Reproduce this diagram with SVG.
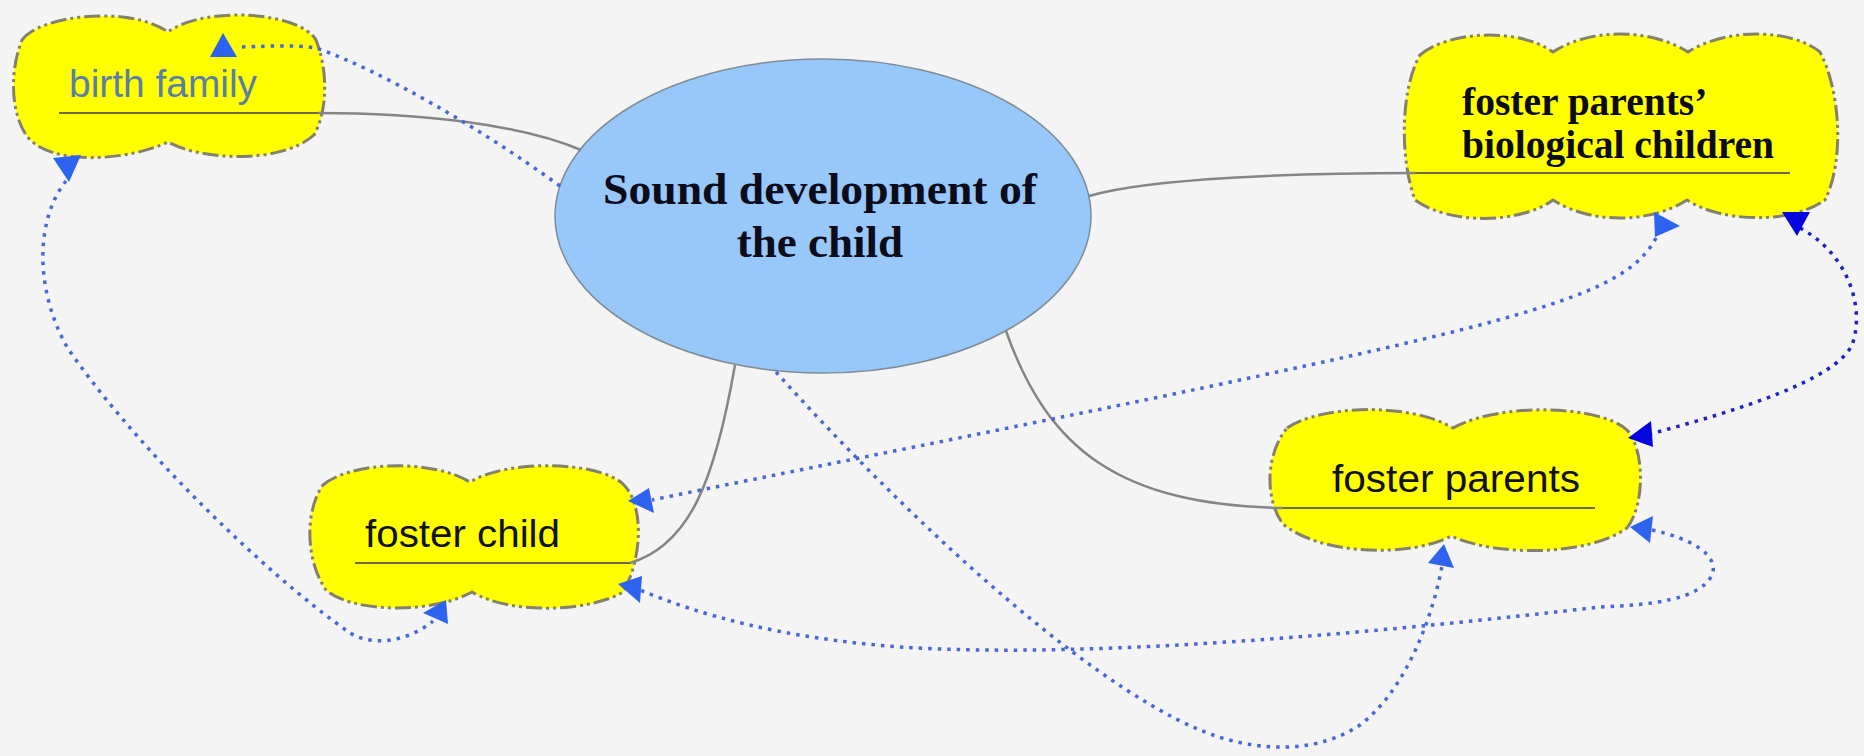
<svg xmlns="http://www.w3.org/2000/svg" width="1864" height="756" viewBox="0 0 1864 756">
<style>
.cloud{fill:#ffff00;stroke:#85806c;stroke-width:3;stroke-dasharray:16 4 3 4 3 4;stroke-linejoin:round}
.ul{stroke:#6f6a40;stroke-width:2;fill:none}
.link{fill:none;stroke:#858585;stroke-width:2.5}
.dot{fill:none;stroke:#4a66d6;stroke-width:3.5;stroke-dasharray:3.5 6}
.dotdk{fill:none;stroke:#2020c8;stroke-width:3.5;stroke-dasharray:3.5 6}
.ah{fill:#2d63ee}
.ahdk{fill:#0505e0}
.sans{font-family:"Liberation Sans",Arial,sans-serif;font-size:38px;fill:#111}
.serifb{font-family:"Liberation Serif","Times New Roman",serif;font-weight:bold;fill:#0b0b1a}
</style>
<rect width="1864" height="756" fill="#f4f4f4"/>

<g id="node-center">
  <ellipse cx="823" cy="216" rx="268" ry="157" fill="#98c8f9" stroke="#7e8c98" stroke-width="1.5"/>
  <text class="serifb" x="820" y="204" font-size="45" text-anchor="middle" textLength="434" lengthAdjust="spacingAndGlyphs">Sound development of</text>
  <text class="serifb" x="820" y="257" font-size="45" text-anchor="middle">the child</text>
</g>

<g id="node-birth-family">
  <path class="cloud" d="M22,40 C40,15 130,5 168,32 C205,5 300,12 316,40 C328,70 328,110 314,135 C280,165 200,160 168,142 C130,160 50,168 26,135 C10,110 10,70 22,40 Z"/>
  <text class="sans" x="69" y="97" font-size="36" textLength="188" lengthAdjust="spacingAndGlyphs" style="fill:#5a7ea6">birth family</text>
  <line class="ul" x1="59" y1="113" x2="318" y2="113"/>
</g>

<g id="node-bio-children">
  <path class="cloud" d="M1420,55 C1450,30 1520,28 1553,52 C1590,28 1650,28 1688,52 C1725,28 1790,28 1820,52 C1840,90 1845,160 1825,200 C1790,225 1720,222 1687,200 C1650,224 1590,224 1553,200 C1520,224 1450,225 1415,200 C1400,160 1400,90 1420,55 Z"/>
  <text class="serifb" x="1462" y="115" font-size="39.5">foster parents’</text>
  <text class="serifb" x="1462" y="158" font-size="39.5">biological children</text>
  <line class="ul" x1="1415" y1="173" x2="1790" y2="173"/>
</g>

<g id="node-foster-child">
  <path class="cloud" d="M323,485 C350,462 430,458 470,482 C510,458 600,462 623,484 C645,505 642,560 623,592 C590,612 510,615 472,592 C430,615 350,612 326,590 C305,560 305,510 323,485 Z"/>
  <text class="sans" x="365" y="547" textLength="195" lengthAdjust="spacingAndGlyphs">foster child</text>
  <line class="ul" x1="355" y1="563" x2="630" y2="563"/>
</g>

<g id="node-foster-parents">
  <path class="cloud" d="M1287,428 C1320,405 1410,402 1453,428 C1500,402 1600,405 1627,430 C1645,450 1645,505 1627,528 C1590,555 1500,558 1451,536 C1410,558 1320,555 1283,524 C1265,500 1265,455 1287,428 Z"/>
  <text class="sans" x="1332" y="492" textLength="248" lengthAdjust="spacingAndGlyphs">foster parents</text>
  <line class="ul" x1="1283" y1="508" x2="1595" y2="508"/>
</g>

<g id="connectors">
  <path class="link" d="M318,113 C420,113 520,124 581,150"/>
  <path class="link" d="M1089,196 C1150,178 1300,173 1415,173"/>
  <path class="link" d="M735,365 C715,480 690,545 630,563"/>
  <path class="link" d="M1006,331 C1048,450 1120,505 1283,508"/>

  <path class="dot" d="M560,186 C480,128 380,70 316,48 C290,44 260,47 236,47"/>
  <path class="dot" d="M66,181 C35,220 35,290 67,347 C130,440 260,570 350,633 C375,648 410,640 433,621"/>
  <path class="dot" d="M1656,238 C1635,278 1580,298 1480,325 C1300,372 900,449 652,500"/>
  <path class="dot" d="M776,372 C900,510 1080,680 1200,730 C1260,755 1320,752 1360,725 C1400,695 1430,630 1442,566"/>
  <path class="dot" d="M1652,530 C1690,538 1720,555 1712,575 C1700,600 1650,605 1600,607 C1400,630 1100,660 900,647 C780,638 700,615 640,590"/>
  <path class="dotdk" d="M1800,228 C1850,255 1865,310 1852,345 C1835,380 1740,410 1650,434"/>

  <polygon class="ah" points="223,33 210,57 237,57"/>
  <polygon class="ah" points="53,158 81,155 69,182"/>
  <polygon class="ah" points="423,613 446,600 448,624"/>
  <polygon class="ah" points="1654,212 1680,226 1655,237"/>
  <polygon class="ah" points="628,501 649,488 654,513"/>
  <polygon class="ah" points="1428,563 1444,544 1454,568"/>
  <polygon class="ah" points="1630,527 1653,516 1650,543"/>
  <polygon class="ah" points="618,584 642,576 640,603"/>
  <polygon class="ahdk" points="1782,212 1810,212 1797,236"/>
  <polygon class="ahdk" points="1628,438 1651,421 1653,447"/>
</g>
</svg>
